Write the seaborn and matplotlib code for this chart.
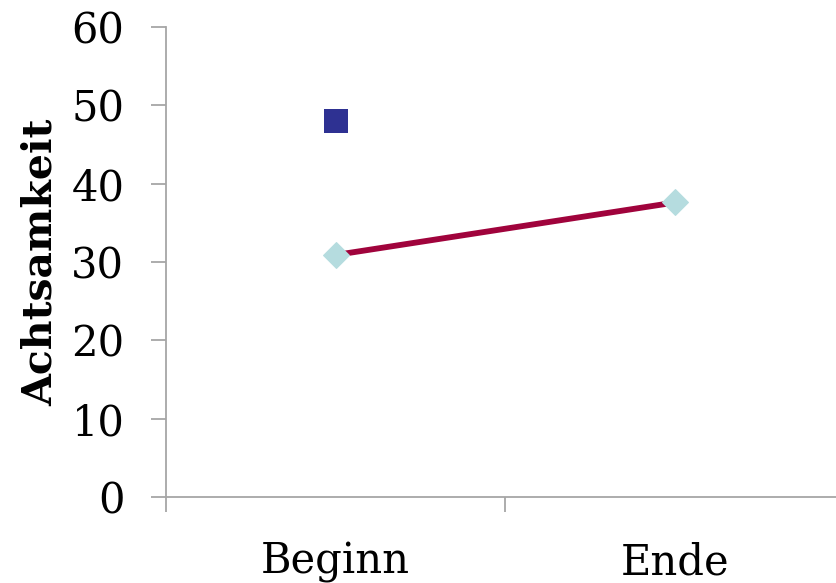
import matplotlib
matplotlib.use("Agg")
import matplotlib.pyplot as plt
import seaborn as sns
import pandas as pd
from matplotlib.ticker import FixedLocator, NullFormatter

categories = ["Beginn", "Ende"]
line_values = [30.9, 37.6]
square_category = ["Beginn"]
square_values = [48.0]
y_ticks = [0, 10, 20, 30, 40, 50, 60]
y_label = "Achtsamkeit"

sns.set_theme(style="white")
plt.rcParams["font.family"] = ["DejaVu Serif"]

fig = plt.figure(figsize=(8.37, 5.83), dpi=100)
W, H = 837, 583
ax = fig.add_axes([166 / W, (H - 497) / H, (845 - 166) / W, (497 - 27) / H])

df_line = pd.DataFrame({"Zeitpunkt": categories, "Wert": line_values})
df_sq = pd.DataFrame({"Zeitpunkt": square_category, "Wert": square_values})

sns.lineplot(data=df_line, x="Zeitpunkt", y="Wert", ax=ax, color="#A0033C",
             linewidth=4.2, marker="D", markersize=13, markerfacecolor="#B5DCDF",
             markeredgecolor="#B5DCDF", zorder=3)
sns.scatterplot(data=df_sq, x="Zeitpunkt", y="Wert", ax=ax, marker="s", s=290,
                color="#2E3192", edgecolor="#2E3192", linewidth=0, zorder=4)

ax.set_xlim(-0.5, 1.5)
ax.set_ylim(0, 60)
ax.set_yticks(y_ticks)
ax.set_xticks([0, 1])
ax.set_xticklabels(categories)
ax.xaxis.set_minor_locator(FixedLocator([-0.5, 0.5, 1.5]))
ax.xaxis.set_minor_formatter(NullFormatter())

for s in ["top", "right"]:
    ax.spines[s].set_visible(False)
for s in ["left", "bottom"]:
    ax.spines[s].set_color("#A6A6A6")
    ax.spines[s].set_linewidth(1.3)

ax.tick_params(axis="y", which="major", length=11, width=1.3, color="#A6A6A6",
               direction="out", left=True, labelsize=30, pad=19, labelcolor="black")
ax.tick_params(axis="x", which="major", length=0, labelsize=30, pad=32, labelcolor="black")
ax.tick_params(axis="x", which="minor", length=11, width=1.3, color="#A6A6A6",
               direction="out", bottom=True)

ax.set_xlabel("")
ax.set_ylabel(y_label, fontsize=29.5, fontweight="bold", color="black")
ax.yaxis.label.set_verticalalignment("center")
ax.yaxis.set_label_coords(-0.184, 0.5)
ax.grid(False)

fig.savefig("out.png", dpi=100)
